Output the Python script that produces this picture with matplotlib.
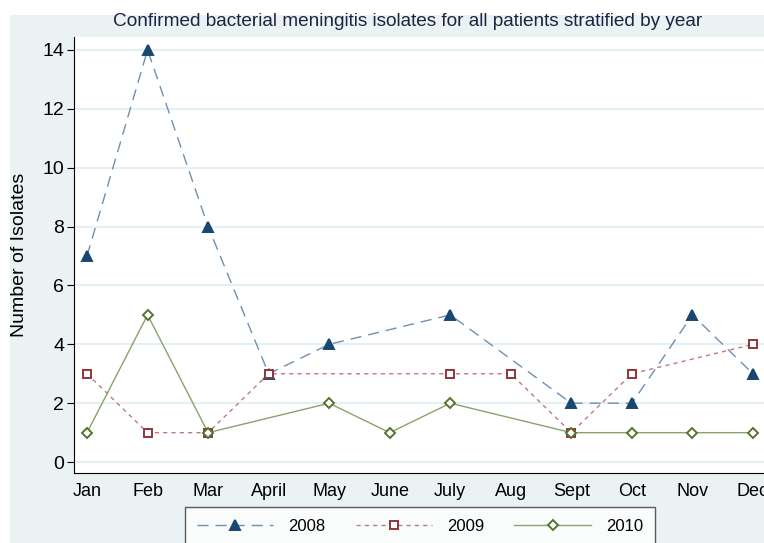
import numpy as np
import matplotlib
matplotlib.use("Agg")
import matplotlib.pyplot as plt
from matplotlib.patches import Rectangle
from matplotlib.lines import Line2D

plt.rcParams["font.family"] = ["Liberation Sans", "DejaVu Sans"]

months = ["Jan", "Feb", "Mar", "April", "May", "June", "July", "Aug",
          "Sept", "Oct", "Nov", "Dec"]
y2008 = [7, 14, 8, 3, 4, None, 5, None, 2, 2, 5, 3]
y2009 = [3, 1, 1, 3, None, None, 3, 3, 1, 3, None, 4]
y2010 = [1, 5, 1, None, 2, 1, 2, None, 1, 1, 1, 1]

BG = "#eaf2f3"
GRID = "#e6eff3"

fig = plt.figure(figsize=(7.64, 5.43), dpi=100)
W, H = 764, 543
# outer grey-blue background (white margin at left/top)
fig.patches.append(Rectangle((10 / W, 0), 1, 1 - 15 / H, transform=fig.transFigure,
                             facecolor=BG, edgecolor="none", zorder=0))

ax = fig.add_axes([74 / W, 1 - 473 / H, (766 - 74) / W, (473 - 37) / H])
ax.set_facecolor("white")
ax.set_zorder(1)


def draw(vals, color, lcolor, ls, marker, mfc, ms):
    x = [i + 1 for i, v in enumerate(vals) if v is not None]
    y = [v for v in vals if v is not None]
    ax.plot(x, y, color=lcolor, linestyle=ls, linewidth=1.0, zorder=3)
    ax.plot(x, y, linestyle="none", marker=marker, markersize=ms,
            markerfacecolor=mfc, markeredgecolor=color, markeredgewidth=1.4, zorder=4)


series = [
    ("2008", y2008, "#1a476f", "#7090b0", (0, (8, 5)), "^", "#1a476f", 7),
    ("2009", y2009, "#90353b", "#c0787e", (0, (3, 3)), "s", "white", 6),
    ("2010", y2010, "#55752f", "#8aa36a", "-", "D", "white", 5.5),
]
for name, vals, c, lc, ls, mk, mfc, ms in series:
    draw(vals, c, lc, ls, mk, mfc, ms)

ax.set_xlim(0.785, 12.215)
ax.set_ylim(-0.37, 14.44)
ax.set_xticks(range(1, 13))
ax.set_xticklabels(months)
ax.set_yticks(range(0, 15, 2))
ax.yaxis.grid(True, color=GRID, linewidth=1.5)
ax.set_axisbelow(True)
for s in ["top", "right"]:
    ax.spines[s].set_visible(False)
ax.spines["left"].set_color("black")
ax.spines["bottom"].set_color("black")
ax.tick_params(axis="y", length=5, labelsize=14, pad=2)
ax.tick_params(axis="x", length=0, labelsize=13, pad=7)
ax.set_ylabel("Number of Isolates", fontsize=14)
ax.yaxis.set_label_coords(-0.067, 0.5)

fig.text(408 / W, 1 - 22 / H, "Confirmed bacterial meningitis isolates for all patients stratified by year",
         ha="center", va="center", fontsize=13.7, color="#1c2444")

handles = [Line2D([], [], color=lc, linestyle=ls, linewidth=1.0, marker=mk,
                  markersize=ms, markerfacecolor=mfc, markeredgecolor=c, markeredgewidth=1.4)
           for name, vals, c, lc, ls, mk, mfc, ms in series]
leg = fig.legend(handles, [s[0] for s in series], loc="upper center",
                 bbox_to_anchor=(420 / W, 1 - 507 / H), ncol=3, fontsize=12,
                 handlelength=4.6, columnspacing=1.8, handletextpad=0.9,
                 frameon=True, fancybox=False, borderpad=0.7, borderaxespad=0)
leg.get_frame().set_edgecolor("#333333")
leg.get_frame().set_linewidth(1.0)

fig.savefig("out.png", dpi=100, facecolor="white")
